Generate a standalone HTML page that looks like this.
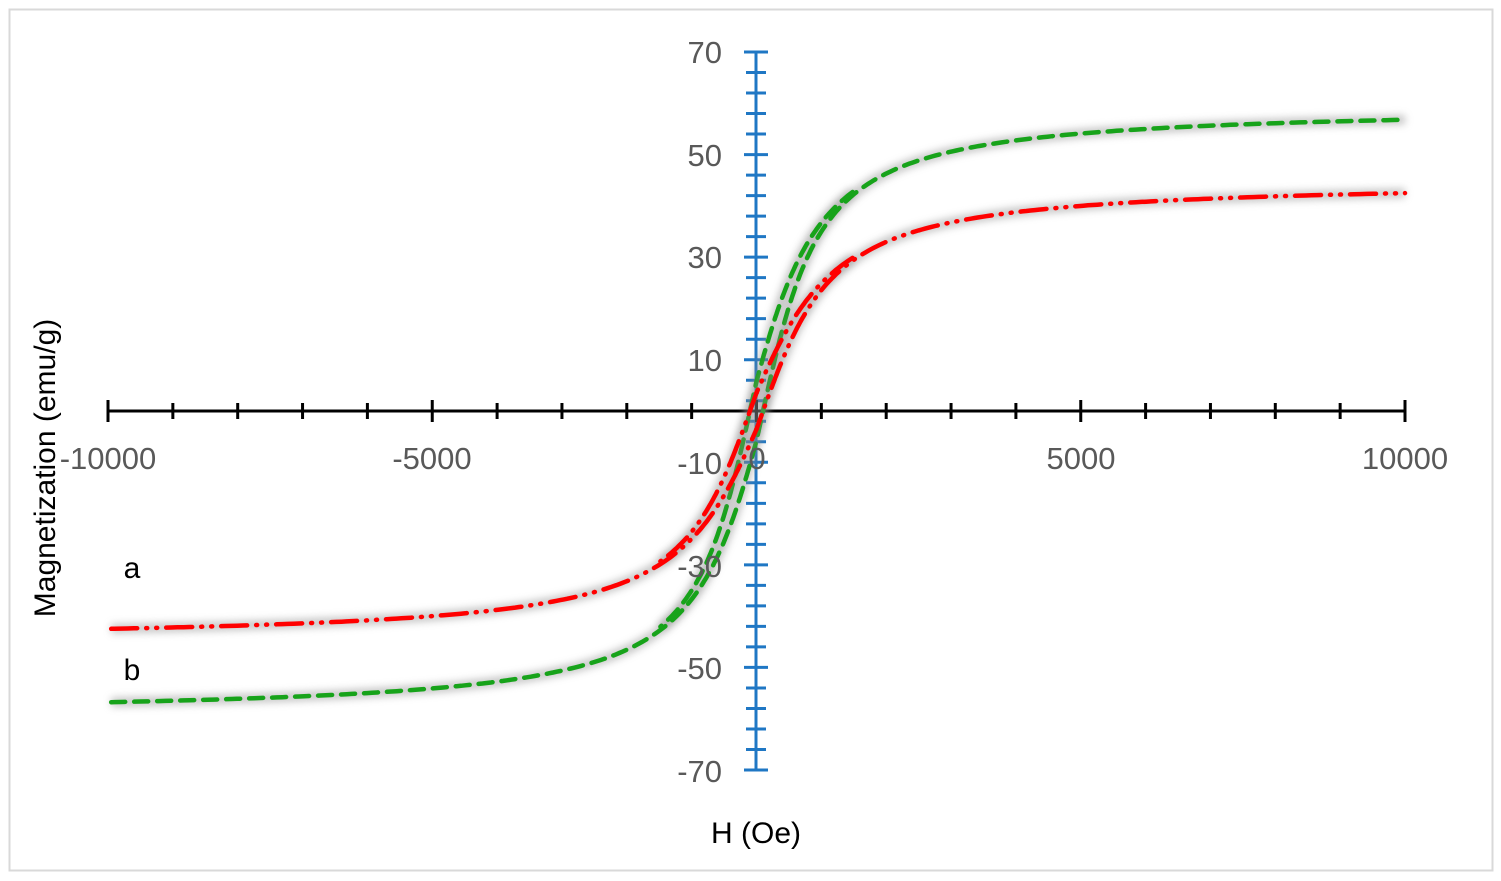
<!DOCTYPE html>
<html><head><meta charset="utf-8"><style>
html,body{margin:0;padding:0;background:#fff;}
svg{display:block;font-family:"Liberation Sans",sans-serif;}
</style></head><body>
<svg id="s" width="1501" height="881" xmlns="http://www.w3.org/2000/svg">
<defs><filter id="blur" x="-5%" y="-5%" width="110%" height="110%"><feGaussianBlur stdDeviation="4"/></filter></defs>
<rect x="9.5" y="9.5" width="1483" height="861" fill="#fff" stroke="#d9d9d9" stroke-width="2"/>
<g id="ax"></g>
<g id="curves"></g>
<g fill="#595959" font-size="31">
<text x="722" y="63" text-anchor="end">70</text>
<text x="722" y="166" text-anchor="end">50</text>
<text x="722" y="268" text-anchor="end">30</text>
<text x="722" y="371" text-anchor="end">10</text>
<text x="722" y="474" text-anchor="end">-10</text>
<text x="722" y="577" text-anchor="end">-30</text>
<text x="722" y="679" text-anchor="end">-50</text>
<text x="722" y="782" text-anchor="end">-70</text>
<text x="108" y="469" text-anchor="middle">-10000</text>
<text x="432" y="469" text-anchor="middle">-5000</text>
<text x="757" y="469" text-anchor="middle">0</text>
<text x="1081" y="469" text-anchor="middle">5000</text>
<text x="1405" y="469" text-anchor="middle">10000</text>
</g>
<g fill="#000" font-size="30">
<text x="756" y="843" text-anchor="middle">H (Oe)</text>
<text transform="translate(55,468) rotate(-90)" text-anchor="middle">Magnetization (emu/g)</text>
<text x="132" y="578" text-anchor="middle">a</text>
<text x="132" y="680" text-anchor="middle">b</text>
</g>
</svg>
<script>
const NS="http://www.w3.org/2000/svg";
const X=h=>756.5+h*0.06485, Y=m=>411-m*5.13;
function el(p,t,a){const e=document.createElementNS(NS,t);for(const k in a)e.setAttribute(k,a[k]);p.appendChild(e);return e;}
const ax=document.getElementById('ax'),cv=document.getElementById('curves');
el(ax,'line',{x1:756,y1:52,x2:756,y2:770,stroke:'#1f77c4','stroke-width':3});
for(let i=0;i<=35;i++){const y=52+i*718/35;const L=(i%5==0)?12:10;el(ax,'line',{x1:756-L,y1:y,x2:756+L,y2:y,stroke:'#1f77c4','stroke-width':3});}
el(ax,'line',{x1:108,y1:411,x2:1405,y2:411,stroke:'#000','stroke-width':3});
for(let i=0;i<=20;i++){const x=108+i*1297/20;const L=(i%5==0)?11:8;el(ax,'line',{x1:x,y1:411-L,x2:x,y2:411+L,stroke:'#000','stroke-width':3});}
function path(Ms,h0,sh,dir,x0,lim){let d='';const pts=[];
 for(let k=0;k<=400;k++){const u=2*k/400-1;const h=10000*Math.sign(u)*u*u;pts.push(h);}
 let arr=dir>0?pts:pts.slice().reverse();
 arr=arr.filter(h=>Math.abs(h)<=lim);
 let first=true;
 arr.forEach(h=>{const hh=Math.max(h,x0);const s=sh*Math.exp(-Math.abs(hh)/1200);const m=Ms*2/Math.PI*Math.atan((hh-dir*s)/h0);d+=(first?'M':'L')+X(hh).toFixed(1)+' '+Y(m).toFixed(1);first=false;});
 return d;}
function draw(Ms,h0,sh,col,dash,x0){
 const d1=path(Ms,h0,sh,1,x0,10000),d2=path(Ms,h0,sh,-1,x0,1500);
 [d1,d2].forEach(d=>el(cv,'path',{d:d,fill:'none',stroke:'#888','stroke-width':9,opacity:0.5,filter:'url(#blur)'}));
 [d1,d2].forEach(d=>el(cv,'path',{d:d,fill:'none',stroke:col,'stroke-width':4.5,'stroke-dasharray':dash,'stroke-linecap':'round'}));
}
draw(59.5,720,110,'#17a31a','14 9',-9950);
draw(45,885,110,'#f00','26 9 1 9 1 9',-9950);
</script>
</body></html>
